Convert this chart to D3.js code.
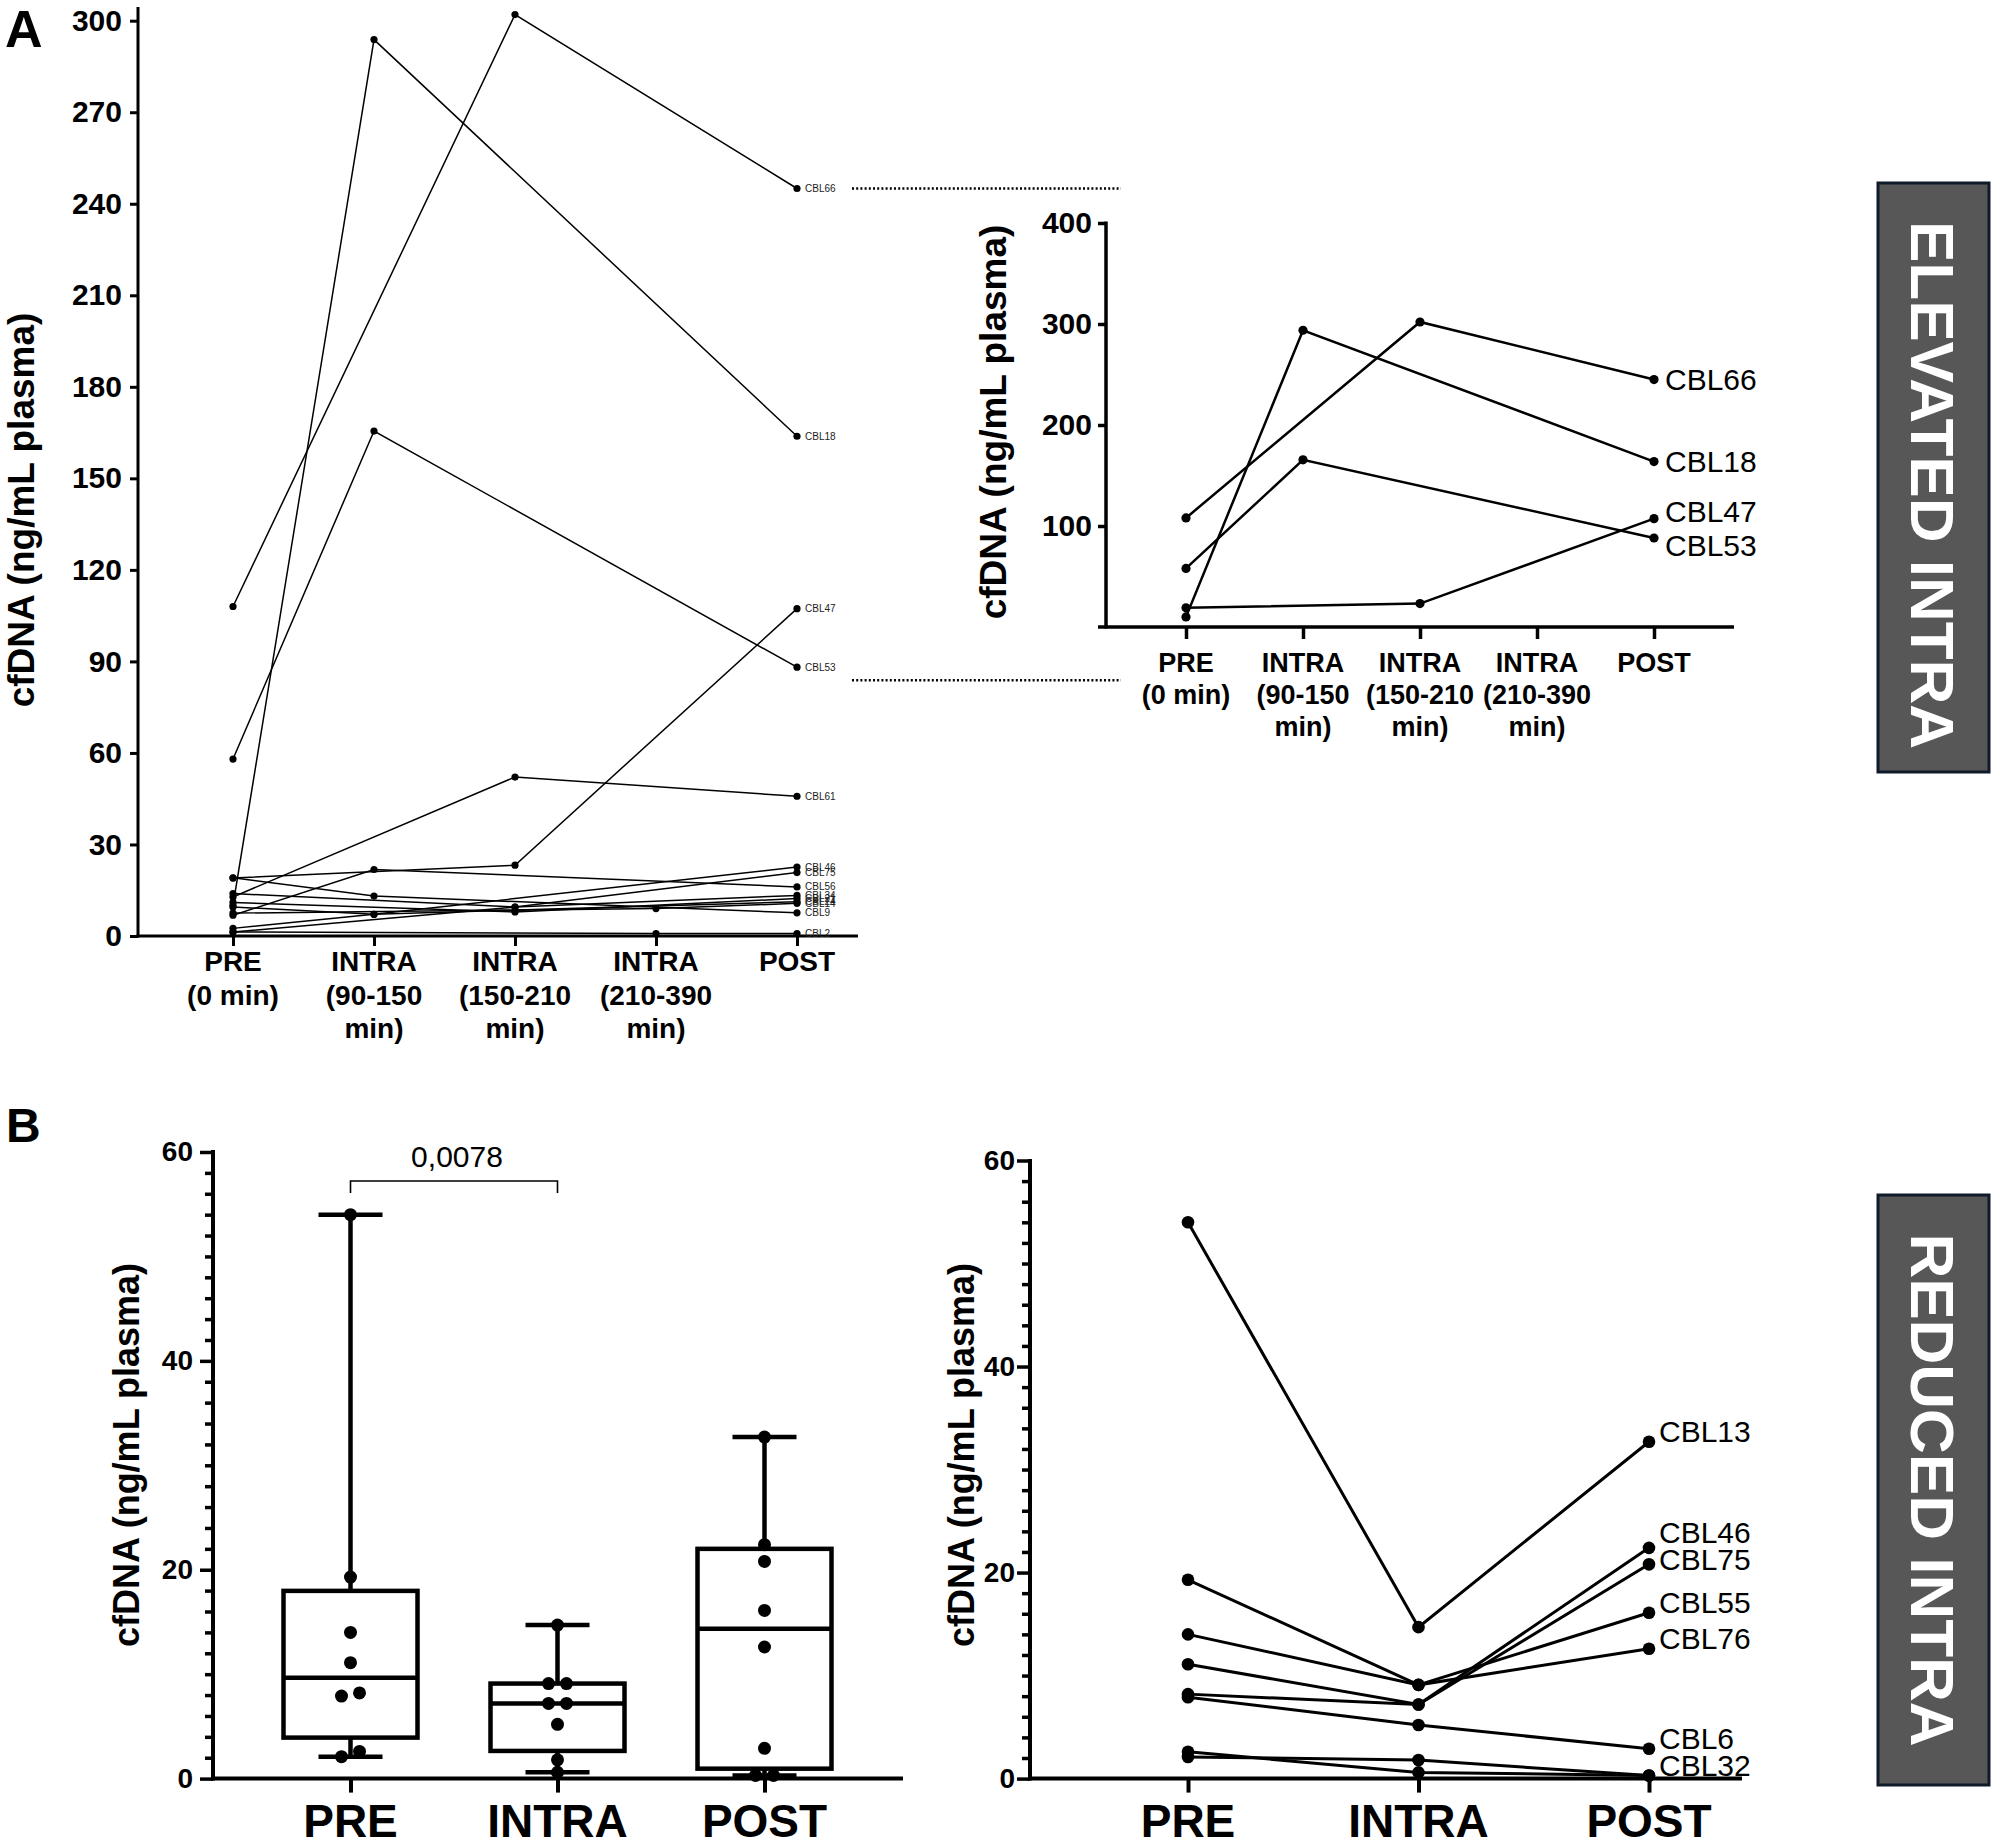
<!DOCTYPE html>
<html><head><meta charset="utf-8">
<script src="https://cdn.jsdelivr.net/npm/d3@7"></script>
<style>html,body{margin:0;padding:0;background:#fff;} svg{display:block;}</style>
</head><body>
<svg id="chart" width="2000" height="1846"></svg>
<script>
// ---------------- DATA ----------------
const timepointsA = ["PRE\n(0 min)", "INTRA\n(90-150\nmin)", "INTRA\n(150-210\nmin)", "INTRA\n(210-390\nmin)", "POST"];
const ticksA = [0, 30, 60, 90, 120, 150, 180, 210, 240, 270, 300];
const ticksInset = [100, 200, 300, 400];

const elevNames  = ["CBL66","CBL18","CBL53","CBL47","CBL61","CBL46","CBL75","CBL56","CBL9","CBL34","CBL21","CBL24","CBL14","CBL2"];
const elevPre    = [108, 10, 58, 19, 12.8, 2.5, 1.3, 6.8, 19.1, 13.9, 11, 9.5, 7.5, 1.3];
const elevIntra1 = [null, 293.8, 165.5, null, null, 7.1, null, 21.8, 13.1, null, null, 7.1, null, null];
const elevIntra2 = [302, null, null, 23.2, 52.1, null, 9.5, null, null, 9.5, 7.9, null, null, null];
const elevIntra3 = [null, null, null, null, null, null, null, null, null, null, null, null, 9.0, 0.8];
const elevPost   = [245, 163.8, 88.1, 107.3, 45.8, 22.6, 20.8, 16.1, 7.6, 13.3, 12.3, 11.2, 10.7, 0.8];
const insetNames = ["CBL66","CBL18","CBL47","CBL53"];

const timepointsB = ["PRE", "INTRA", "POST"];
const ticksB = [0, 20, 40, 60];
const minorTicksB = [2,4,6,8,10,12,14,16,18,22,24,26,28,30,32,34,36,38,42,44,46,48,50,52,54,56,58];
const reducedNames = ["CBL13","CBL55","CBL76","CBL46","CBL75","CBL6","CBL32", null];
const reducedPre   = [54.0, 19.3, 14.0, 11.1, 8.2, 7.9, 2.1, 2.6];
const reducedIntra = [14.7, 9.1, 9.1, 7.2, 7.2, 5.2, 1.8, 0.6];
const reducedPost  = [32.7, 16.1, 12.6, 22.4, 20.8, 2.9, 0.3, 0.3];
const pValueText = "0,0078";
const panelLetters = ["A", "B"];
const sideLabels = ["ELEVATED INTRA", "REDUCED INTRA"];
const yTitle = "cfDNA (ng/mL plasma)";

// ---------------- SETUP ----------------
const FONT = "'Liberation Sans', Arial, Helvetica, sans-serif";
const svg = d3.select("#chart").style("font-family", FONT);
svg.append("rect").attr("width", 2000).attr("height", 1846).attr("fill", "#fff");

function repel(items, gap) {
  items.sort((a, b) => a.y - b.y);
  for (let k = 0; k < 100; k++) {
    let moved = false;
    for (let i = 1; i < items.length; i++) {
      const d = items[i].y - items[i - 1].y;
      if (d < gap) {
        const s = (gap - d) / 2;
        items[i - 1].y -= s; items[i].y += s; moved = true;
      }
    }
    if (!moved) break;
  }
  return items;
}

function yTitleText(cx, cy, size) {
  svg.append("text").attr("transform", `translate(${cx},${cy}) rotate(-90)`)
    .attr("text-anchor", "middle").attr("dy", "0.35em")
    .attr("font-size", size).attr("font-weight", "bold").text(yTitle);
}

function styleAxis(g, sw, fs) {
  g.select(".domain").remove();
  g.selectAll(".tick line").attr("stroke", "#000").attr("stroke-width", sw);
  g.selectAll(".tick text").attr("fill", "#000").attr("font-size", fs)
    .attr("font-weight", "bold").attr("font-family", FONT);
}

function multiLabels(scale, cats, baseY, lh, fs) {
  cats.forEach(c => {
    const t = svg.append("text").attr("x", scale(c)).attr("y", baseY)
      .attr("text-anchor", "middle").attr("font-size", fs).attr("font-weight", "bold");
    c.split("\n").forEach((ln, i) => {
      t.append("tspan").attr("x", scale(c)).attr("dy", i === 0 ? 0 : lh).text(ln);
    });
  });
}

// series of panel A
const elevSeries = elevNames.map((n, i) => ({
  name: n,
  pts: [elevPre[i], elevIntra1[i], elevIntra2[i], elevIntra3[i], elevPost[i]]
    .map((v, j) => ({ cat: timepointsA[j], v })).filter(p => p.v !== null)
}));

// ---------------- PANEL A (main) ----------------
const xA = d3.scalePoint().domain(timepointsA).range([233, 797]);
const yA = d3.scaleLinear().domain([0, 300]).range([936, 20.7]);

svg.append("text").attr("x", 5).attr("y", 47).attr("font-size", 52).attr("font-weight", "bold").text(panelLetters[0]);

const gyA = svg.append("g").attr("transform", "translate(138,0)")
  .call(d3.axisLeft(yA).tickValues(ticksA).tickSize(8).tickPadding(8));
styleAxis(gyA, 3, 30);
svg.append("line").attr("x1", 138).attr("x2", 138).attr("y1", 7).attr("y2", 937.5)
  .attr("stroke", "#000").attr("stroke-width", 3);

const gxA = svg.append("g").attr("transform", "translate(0,936)")
  .call(d3.axisBottom(xA).tickSize(10).tickFormat(""));
styleAxis(gxA, 3, 28);
svg.append("line").attr("x1", 136.5).attr("x2", 858).attr("y1", 936).attr("y2", 936)
  .attr("stroke", "#000").attr("stroke-width", 3);
multiLabels(xA, timepointsA, 971, 33.5, 28);

const lineA = d3.line().x(p => xA(p.cat)).y(p => yA(p.v));
const gA = svg.append("g");
elevSeries.forEach(s => {
  gA.append("path").attr("d", lineA(s.pts)).attr("fill", "none")
    .attr("stroke", "#000").attr("stroke-width", 1.5);
});
elevSeries.forEach(s => {
  s.pts.forEach(p => gA.append("circle").attr("cx", xA(p.cat)).attr("cy", yA(p.v)).attr("r", 3.6).attr("fill", "#000"));
  const last = s.pts[s.pts.length - 1];
  gA.append("text").attr("x", xA(last.cat) + 8).attr("y", yA(last.v)).attr("dy", "0.35em")
    .attr("font-size", 10).attr("fill", "#222").text(s.name);
});
yTitleText(21, 510, 37);

// ---------------- INSET ----------------
const insetSeries = elevSeries.filter(s => insetNames.includes(s.name));
const xI = d3.scalePoint().domain(timepointsA).range([1186, 1654]);
const yI = d3.scaleLinear().domain([0, 400]).range([627, 223]);

const postVals = insetSeries.map(s => s.pts[s.pts.length - 1].v);
const dotTop = yA(d3.max(postVals)), dotBot = yA(d3.min(postVals)) + 13;
[dotTop, dotBot].forEach(yy => {
  svg.append("line").attr("x1", 852).attr("x2", 1121).attr("y1", yy).attr("y2", yy)
    .attr("stroke", "#000").attr("stroke-width", 2.5).attr("stroke-dasharray", "2,2.2");
});

const gyI = svg.append("g").attr("transform", "translate(1106,0)")
  .call(d3.axisLeft(yI).tickValues(ticksInset).tickSize(8).tickPadding(6));
styleAxis(gyI, 3.5, 30);
svg.append("line").attr("x1", 1106).attr("x2", 1106).attr("y1", 221.5).attr("y2", 628.5)
  .attr("stroke", "#000").attr("stroke-width", 3.5);
const gxI = svg.append("g").attr("transform", "translate(0,627)")
  .call(d3.axisBottom(xI).tickSize(12).tickFormat(""));
styleAxis(gxI, 3.5, 27);
svg.append("line").attr("x1", 1098).attr("x2", 1734).attr("y1", 627).attr("y2", 627)
  .attr("stroke", "#000").attr("stroke-width", 3.5);
multiLabels(xI, timepointsA, 672, 32, 27);

const lineI = d3.line().x(p => xI(p.cat)).y(p => yI(p.v));
insetSeries.forEach(s => {
  svg.append("path").attr("d", lineI(s.pts)).attr("fill", "none").attr("stroke", "#000").attr("stroke-width", 2.5);
  s.pts.forEach(p => svg.append("circle").attr("cx", xI(p.cat)).attr("cy", yI(p.v)).attr("r", 4.6).attr("fill", "#000"));
});
repel(insetSeries.map(s => {
  const last = s.pts[s.pts.length - 1];
  return { name: s.name, x: xI(last.cat) + 11, y: yI(last.v) };
}), 34).forEach(l => {
  svg.append("text").attr("x", l.x).attr("y", l.y).attr("dy", "0.35em")
    .attr("font-size", 30).text(l.name);
});
yTitleText(993, 422, 37);

// ---------------- SIDE LABELS ----------------
[[183, 589, 485], [1195, 590, 1490]].forEach((b, i) => {
  svg.append("rect").attr("x", 1878).attr("y", b[0]).attr("width", 111).attr("height", b[1])
    .attr("fill", "#575757").attr("stroke", "#0f1b28").attr("stroke-width", 3);
  svg.append("text").attr("transform", `translate(1933,${b[2]}) rotate(90)`)
    .attr("text-anchor", "middle").attr("dy", "0.35em").attr("fill", "#fff")
    .attr("font-size", 62).attr("font-weight", "bold").text(sideLabels[i]);
});

// ---------------- PANEL B (box plot) ----------------
svg.append("text").attr("x", 6).attr("y", 1142).attr("font-size", 48).attr("font-weight", "bold").text(panelLetters[1]);

const xB = d3.scalePoint().domain(timepointsB).range([350.5, 764.5]);
const yB = d3.scaleLinear().domain([0, 60]).range([1778.6, 1152]);

const gyB = svg.append("g").attr("transform", "translate(213,0)")
  .call(d3.axisLeft(yB).tickValues(ticksB).tickSize(13).tickPadding(7));
styleAxis(gyB, 3.5, 28);
const gyBm = svg.append("g").attr("transform", "translate(213,0)")
  .call(d3.axisLeft(yB).tickValues(minorTicksB).tickSize(8).tickFormat(""));
styleAxis(gyBm, 3.5, 28);
svg.append("line").attr("x1", 213).attr("x2", 213).attr("y1", 1150).attr("y2", 1780.5)
  .attr("stroke", "#000").attr("stroke-width", 4);
const gxB = svg.append("g").attr("transform", "translate(0,1778.6)")
  .call(d3.axisBottom(xB).tickSize(14).tickFormat(""));
styleAxis(gxB, 4, 46);
svg.append("line").attr("x1", 211).attr("x2", 903).attr("y1", 1778.6).attr("y2", 1778.6)
  .attr("stroke", "#000").attr("stroke-width", 4);
timepointsB.forEach(c => svg.append("text").attr("x", xB(c)).attr("y", 1837)
  .attr("text-anchor", "middle").attr("font-size", 46).attr("font-weight", "bold").text(c));

function q6(sorted, p) { // GraphPad-style quantile ((n+1)p)
  const n = sorted.length, h = (n + 1) * p;
  if (h <= 1) return sorted[0];
  if (h >= n) return sorted[n - 1];
  const lo = Math.floor(h);
  return sorted[lo - 1] + (h - lo) * (sorted[lo] - sorted[lo - 1]);
}
const groupsB = [reducedPre, reducedIntra, reducedPost];
groupsB.forEach((vals, gi) => {
  const c = timepointsB[gi], cx = xB(c);
  const s = vals.slice().sort(d3.ascending);
  const q1 = q6(s, 0.25), med = q6(s, 0.5), q3 = q6(s, 0.75), mn = s[0], mx = s[s.length - 1];
  const g = svg.append("g").attr("stroke", "#000").attr("stroke-width", 4.5).attr("fill", "none");
  g.append("line").attr("x1", cx).attr("x2", cx).attr("y1", yB(mx)).attr("y2", yB(q3));
  g.append("line").attr("x1", cx).attr("x2", cx).attr("y1", yB(q1)).attr("y2", yB(mn));
  g.append("line").attr("x1", cx - 32).attr("x2", cx + 32).attr("y1", yB(mx)).attr("y2", yB(mx));
  g.append("line").attr("x1", cx - 32).attr("x2", cx + 32).attr("y1", yB(mn)).attr("y2", yB(mn));
  g.append("rect").attr("x", cx - 67).attr("width", 134).attr("y", yB(q3)).attr("height", yB(q1) - yB(q3));
  g.append("line").attr("x1", cx - 67).attr("x2", cx + 67).attr("y1", yB(med)).attr("y2", yB(med));
  // points with simple side-by-side spreading of near-equal values
  const pts = s.map(v => ({ v, y: yB(v) }));
  let i = 0;
  while (i < pts.length) {
    let j = i;
    while (j + 1 < pts.length && Math.abs(pts[j + 1].y - pts[i].y) < 10) j++;
    const k = j - i + 1;
    for (let m = i; m <= j; m++) pts[m].dx = k === 1 ? 0 : ((m - i) - (k - 1) / 2) * 18;
    i = j + 1;
  }
  pts.forEach(p => svg.append("circle").attr("cx", cx + p.dx).attr("cy", p.y).attr("r", 6.5).attr("fill", "#000"));
});
// significance bracket
const bx1 = xB("PRE"), bx2 = xB("INTRA");
svg.append("path").attr("d", `M${bx1},1193V1181H${bx2}V1193`).attr("fill", "none")
  .attr("stroke", "#000").attr("stroke-width", 1.6);
svg.append("text").attr("x", (bx1 + bx2) / 2 + 3).attr("y", 1167).attr("text-anchor", "middle")
  .attr("font-size", 30).text(pValueText);
yTitleText(126, 1455, 36);

// ---------------- PANEL B (paired lines) ----------------
const xR = d3.scalePoint().domain(timepointsB).range([1188, 1649]);
const yR = d3.scaleLinear().domain([0, 60]).range([1778.6, 1160.5]);

const gyR = svg.append("g").attr("transform", "translate(1030,0)")
  .call(d3.axisLeft(yR).tickValues(ticksB).tickSize(13).tickPadding(2));
styleAxis(gyR, 3.5, 28);
const gyRm = svg.append("g").attr("transform", "translate(1030,0)")
  .call(d3.axisLeft(yR).tickValues(minorTicksB).tickSize(8).tickFormat(""));
styleAxis(gyRm, 3.5, 28);
svg.append("line").attr("x1", 1030).attr("x2", 1030).attr("y1", 1159).attr("y2", 1780.5)
  .attr("stroke", "#000").attr("stroke-width", 4);
const gxR = svg.append("g").attr("transform", "translate(0,1778.6)")
  .call(d3.axisBottom(xR).tickSize(14).tickFormat(""));
styleAxis(gxR, 4, 46);
svg.append("line").attr("x1", 1028).attr("x2", 1742).attr("y1", 1778.6).attr("y2", 1778.6)
  .attr("stroke", "#000").attr("stroke-width", 4);
timepointsB.forEach(c => svg.append("text").attr("x", xR(c)).attr("y", 1837)
  .attr("text-anchor", "middle").attr("font-size", 46).attr("font-weight", "bold").text(c));

const redSeries = reducedNames.map((n, i) => ({
  name: n, pts: [reducedPre[i], reducedIntra[i], reducedPost[i]].map((v, j) => ({ cat: timepointsB[j], v }))
}));
const lineR = d3.line().x(p => xR(p.cat)).y(p => yR(p.v));
redSeries.forEach(s => {
  svg.append("path").attr("d", lineR(s.pts)).attr("fill", "none").attr("stroke", "#000").attr("stroke-width", 3);
  s.pts.forEach(p => svg.append("circle").attr("cx", xR(p.cat)).attr("cy", yR(p.v)).attr("r", 6.3).attr("fill", "#000"));
});
repel(redSeries.filter(s => s.name).map(s => ({ name: s.name, x: xR("POST") + 10, y: yR(s.pts[2].v) - 10 })), 27)
  .forEach(l => svg.append("text").attr("x", l.x).attr("y", l.y).attr("dy", "0.35em")
    .attr("font-size", 30).text(l.name));
yTitleText(961, 1455, 36);
</script>
</body></html>
